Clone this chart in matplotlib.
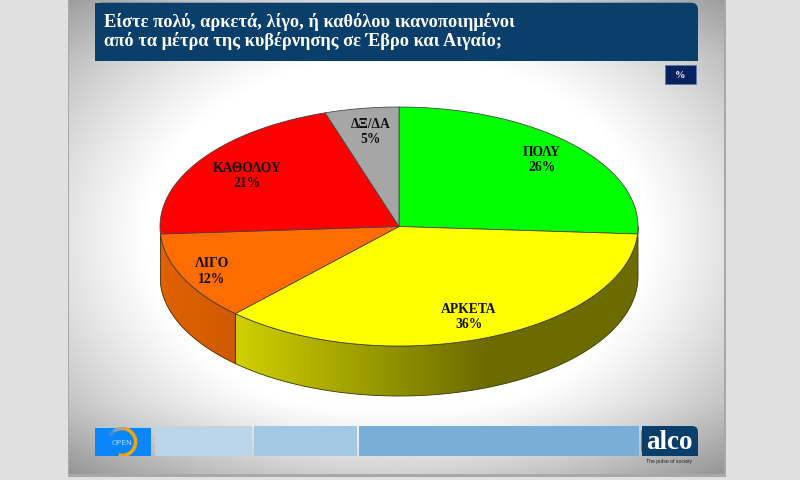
import matplotlib

matplotlib.use("Agg")
import matplotlib.pyplot as plt
import numpy as np
from matplotlib.patches import FancyBboxPatch, Polygon, Rectangle

title_lines = [
    "Είστε πολύ, αρκετά, λίγο, ή καθόλου ικανοποιημένοι",
    "από τα μέτρα της κυβέρνησης σε Έβρο και Αιγαίο;",
]
categories = ["ΠΟΛΥ", "ΑΡΚΕΤΑ", "ΛΙΓΟ", "ΚΑΘΟΛΟΥ", "ΔΞ/ΔΑ"]
shares = [26, 36, 12, 21, 5]
colors = ["#00ff00", "#ffff00", "#ff6c00", "#ff0000", "#a6a6a6"]
label_pos = [(542, 160), (469, 317), (212, 271.5), (247.5, 176), (370.5, 132)]

W, H = 800, 481
CX, CY = 399, 227.5
RX, RY = 239, 119.5
DEPTH = 50

plt.rcParams["font.family"] = ["Liberation Serif", "DejaVu Serif"]
fig = plt.figure(figsize=(W / 100, H / 100), dpi=100, facecolor="#e0e0e0")
ax = fig.add_axes([0, 0, 1, 1])
ax.axis("off")


def arc_points(a0, a1, n=200):
    # angles run clockwise from twelve o'clock
    t = np.radians(np.linspace(a0, a1, n))
    return np.column_stack([CX + RX * np.sin(t), CY - RY * np.cos(t)])


# slide background: white middle, grey towards the corners and along top and bottom
sx0, sx1, sy0, sy1 = 69, 724, 0, 475
gx, gy = np.meshgrid(np.linspace(-1, 1, 330), np.linspace(-1, 1, 240))
dist = np.sqrt(gx**2 + gy**2)
shade = 1 - 0.34 * np.clip((dist - 0.76) / 0.65, 0, 1) ** 1.15
shade -= 0.07 * np.clip((gy - 0.7) / 0.3, 0, 1) + 0.04 * np.clip((-gy - 0.75) / 0.25, 0, 1)
ax.add_patch(Rectangle((sx0 - 1, sy0), sx1 - sx0 + 3, sy1 - sy0 + 2.5, fc="#a8a8a8", ec="none", zorder=0))
ax.imshow(shade, cmap="gray", vmin=0, vmax=1, extent=(sx0, sx1, sy1, sy0), aspect="auto", zorder=1, interpolation="bilinear")

# header band, rounded at the top right only
band = "#0b3f6b"
ax.add_patch(FancyBboxPatch((95, 3.7), 603, 58, boxstyle="round,pad=0,rounding_size=7", fc=band, ec="none", zorder=2))
ax.add_patch(Rectangle((95, 3.7), 20, 58, fc=band, ec="none", zorder=2))
ax.add_patch(Rectangle((95, 30), 603, 31.7, fc=band, ec="none", zorder=2))
ax.text(104, 21.7, title_lines[0], color="white", fontsize=13.2, fontweight="bold", va="center", zorder=3)
ax.text(104, 40.7, title_lines[1], color="white", fontsize=13.2, fontweight="bold", va="center", zorder=3)
ax.add_patch(Rectangle((664.5, 65.7), 31, 19, fc="#06235f", ec="#5a78a8", lw=0.6, zorder=2))
ax.text(680, 75.5, "%", color="white", fontsize=7.5, fontweight="bold", ha="center", va="center", zorder=3)

# pie rim, front half only
cum = np.cumsum([0] + shares) * 3.6
yellow_end = cum[2]
orange_end = cum[3]
side_x = np.linspace(CX - RX, CX + RX, 480)


def rim_fill(stops, a0, a1, edge):
    xs = [s[0] for s in stops]
    rgb = np.stack([np.interp(side_x, xs, [s[1][c] for s in stops]) for c in range(3)], axis=-1)
    im = ax.imshow(rgb[None, :, :] / 255, extent=(CX - RX, CX + RX, H, 0), aspect="auto", zorder=3)
    top = arc_points(a0, a1)
    patch = Polygon(np.vstack([top, top[::-1] + [0, DEPTH]]), closed=True, fc="none", ec=edge, lw=0.6, zorder=4)
    ax.add_patch(patch)
    im.set_clip_path(patch)


rim_fill([(236, (208, 208, 0)), (485, (108, 108, 0)), (638, (107, 107, 0))], 90, yellow_end, "#3a3a00")
rim_fill([(160, (224, 98, 0)), (236, (208, 90, 0))], yellow_end, orange_end, "#4a2600")

# pie top
for i, (name, share) in enumerate(zip(categories, shares)):
    pts = np.vstack([[CX, CY], arc_points(cum[i], cum[i + 1])])
    ax.add_patch(Polygon(pts, closed=True, fc=colors[i], ec="#404040", lw=0.55, zorder=5))
    x, y = label_pos[i]
    ax.text(x, y, f"{name}\n{share}%", color="#101010", fontsize=9.8, fontweight="bold", ha="center", va="center",
            linespacing=1.25, zorder=6)

# footer strip
ax.add_patch(Rectangle((95, 428.7), 56, 28.3, fc="#0a86fb", ec="none", zorder=2))
ax.add_patch(Rectangle((95, 427.7), 56, 1, fc="#9fd0f5", ec="none", zorder=2))

# ring of the small logo: grey fading in at the top left, orange round the right
clip = Rectangle((95, 428), 56, 29, transform=ax.transData)
for a0, a1, col in [(150, 130, "#3f8fd8"), (130, 110, "#7f9fb8"), (110, 90, "#a8a890"), (90, 72, "#d0a050"), (72, -105, "#f5a40c")]:
    t = np.radians(np.linspace(a0, a1, 60))
    line, = ax.plot(122 + 13.5 * np.cos(t), 443 - 13.5 * np.sin(t), color=col, lw=2.6, solid_capstyle="butt", zorder=3)
    line.set_clip_path(clip)
ax.text(121.5, 442.7, "OPEN", color="#a8d4fa", fontsize=5.4, ha="center", va="center", family="DejaVu Sans", zorder=4)

ax.add_patch(Rectangle((154.6, 427), 97, 29.7, fc="#bcd5e9", ec="none", zorder=2))
ax.add_patch(Rectangle((253.6, 427), 103, 29.7, fc="#a3c8e4", ec="none", zorder=2))
ax.add_patch(Rectangle((359, 427), 280, 29.7, fc="#79aed8", ec="none", zorder=2))
ax.add_patch(FancyBboxPatch((641.5, 427), 56.5, 29.7, boxstyle="round,pad=0,rounding_size=6", fc=band, ec="none", zorder=2))
ax.add_patch(Rectangle((641.5, 427), 20, 29.7, fc=band, ec="none", zorder=2))
ax.add_patch(Rectangle((641.5, 440), 56.5, 16.7, fc=band, ec="none", zorder=2))
ax.text(669.5, 442.5, "alco", color="white", fontsize=19.5, fontweight="bold", ha="center", va="center", zorder=3)
ax.text(669.5, 462, "The pulse of society", color="#222222", fontsize=3.7, family="Liberation Sans", ha="center", va="center", zorder=3)

ax.set_xlim(0, W)
ax.set_ylim(H, 0)
fig.savefig("out.png", dpi=100)
